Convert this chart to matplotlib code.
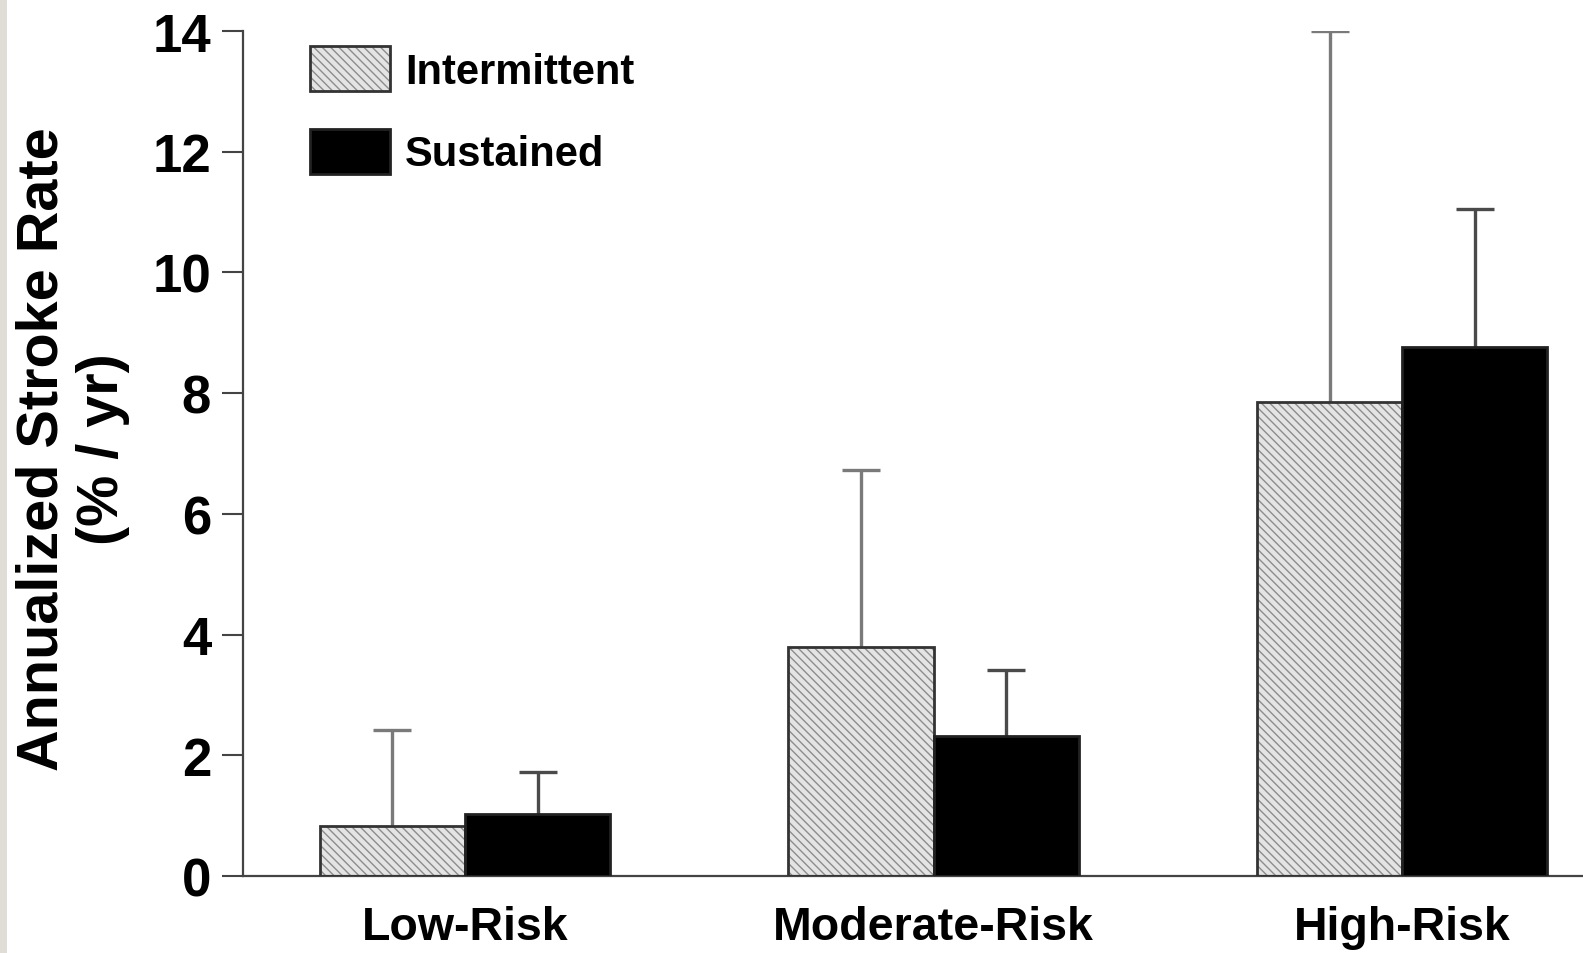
import matplotlib
matplotlib.use("Agg")
import matplotlib.pyplot as plt
import numpy as np
from matplotlib import font_manager
from matplotlib.patches import Rectangle
from matplotlib.legend_handler import HandlerTuple

# ---- data ----
categories = ["Low-Risk", "Moderate-Risk", "High-Risk"]
series_names = ["Intermittent", "Sustained"]
intermittent = [0.83, 3.79, 7.85]
intermittent_err_top = [2.42, 6.73, 14.0]
sustained = [1.03, 2.32, 8.76]
sustained_err_top = [1.72, 3.41, 11.05]
yticks = [0, 2, 4, 6, 8, 10, 12, 14]
ylabel = "Annualized Stroke Rate\n(% / yr)"

names = {f.name for f in font_manager.fontManager.ttflist}
REG = "Liberation Sans" if "Liberation Sans" in names else "DejaVu Sans"

plt.rcParams["hatch.linewidth"] = 1.0

fig = plt.figure(figsize=(15.83, 9.54), dpi=100)
fig.patches.append(Rectangle((0, 0), 7 / 1583, 1, transform=fig.transFigure,
                             facecolor="#e0ddd6", edgecolor="none", zorder=0))
ax = fig.add_axes([243 / 1583, 77 / 954, 1340 / 1583, 845 / 954])

x = np.arange(len(categories))
w = 0.31

int_up = np.array(intermittent_err_top) - np.array(intermittent)
sus_up = np.array(sustained_err_top) - np.array(sustained)

ax.errorbar(x - w / 2, intermittent, yerr=[intermittent, int_up], fmt="none",
            ecolor="#7a7a7a", elinewidth=2.4, capsize=14, capthick=2.4, zorder=1)
ax.errorbar(x + w / 2, sustained, yerr=[sustained, sus_up], fmt="none",
            ecolor="#4a4a4a", elinewidth=2.4, capsize=14, capthick=2.4, zorder=1)

b_h = ax.bar(x - w / 2, intermittent, w, facecolor="#e4e4e4", edgecolor="#8c8c8c",
             hatch="\\\\\\\\", linewidth=0, zorder=2)
b_e = ax.bar(x - w / 2, intermittent, w, fill=False, edgecolor="#333333",
             linewidth=2.0, zorder=3)
b_s = ax.bar(x + w / 2, sustained, w, facecolor="black", edgecolor="#222222",
             linewidth=2.0, zorder=3)

ax.set_xlim(-0.474, 2.386)
ax.set_ylim(0, 14)
ax.set_yticks(yticks)
ax.set_yticklabels([str(v) for v in yticks], fontfamily=REG, fontweight="bold",
                   fontsize=38)
ax.set_xticks(x)
ax.set_xticklabels(categories, fontfamily=REG, fontweight="bold", fontsize=33.5)

for s in ["top", "right"]:
    ax.spines[s].set_visible(False)
for s in ["left", "bottom"]:
    ax.spines[s].set_color("#444444")
    ax.spines[s].set_linewidth(1.6)
ax.tick_params(axis="y", length=15, width=1.5, color="#444444", pad=8)
ax.tick_params(axis="x", length=0, pad=21)

fig.text(73 / 1583, 1 - 449 / 954, ylabel, rotation=90, ha="center", va="center",
         fontfamily=REG, fontweight="bold", fontsize=41.5, linespacing=1.15)

fs = 30
lfont = dict(family=REG, weight="bold", size=fs)
fspx = fs * 100 / 72
hh = (45 / fspx - 0.245) / 0.65
ax.legend([(b_h[0], b_e[0]), b_s[0]], series_names,
          handler_map={tuple: HandlerTuple(ndivide=1)},
          loc="upper left", bbox_to_anchor=(0.05, 0.982), borderaxespad=0,
          borderpad=0, frameon=False, prop=lfont,
          handlelength=80 / fspx, handleheight=hh,
          handletextpad=15 / fspx, labelspacing=37 / fspx)

fig.savefig("out.png", dpi=100, facecolor="white")
